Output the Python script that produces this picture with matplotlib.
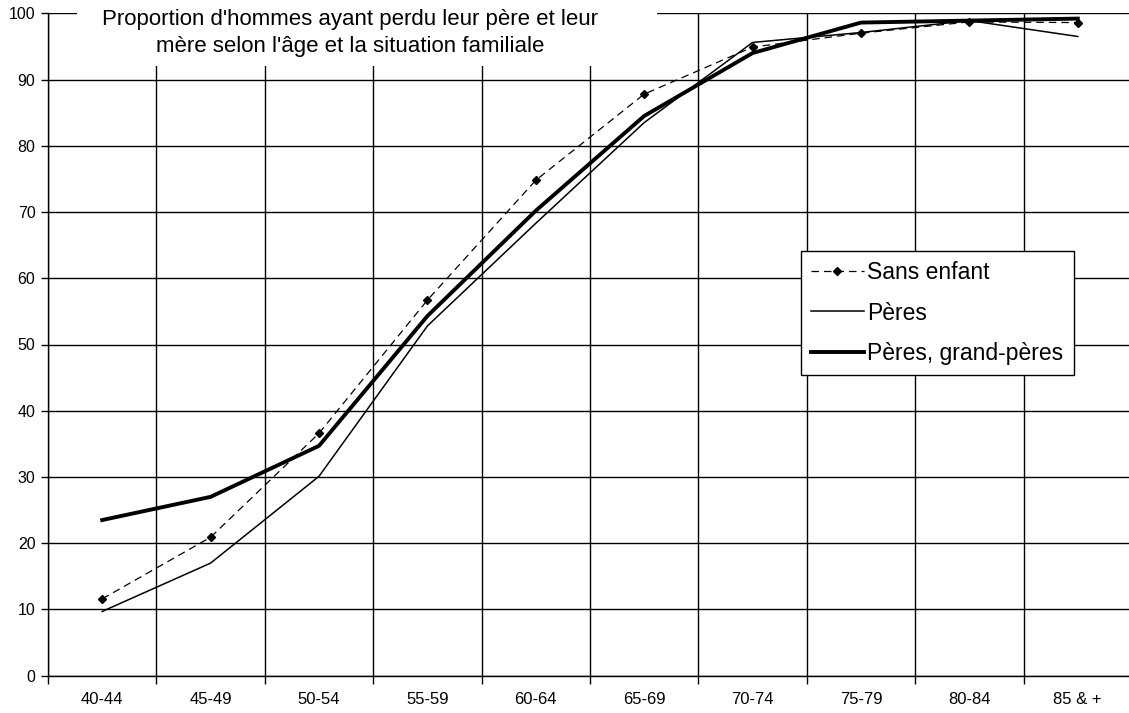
import matplotlib
matplotlib.use("AGG")
import matplotlib.pyplot as plt
from matplotlib.ticker import FixedLocator, MultipleLocator
import numpy as np

plt.rcParams["font.family"] = ["Liberation Sans", "DejaVu Sans"]

# Tranches d'âge et proportions (%) par situation familiale
ages = ["40-44", "45-49", "50-54", "55-59", "60-64",
        "65-69", "70-74", "75-79", "80-84", "85 & +"]
sans_enfant = [11.6, 20.9, 36.6, 56.7, 74.8, 87.8, 94.9, 97.0, 98.7, 98.6]
peres = [9.7, 17.0, 30.1, 52.8, 68.3, 83.5, 95.6, 97.1, 98.9, 96.5]
peres_gp = [23.5, 27.0, 34.7, 54.3, 70.2, 84.5, 94.0, 98.6, 98.9, 99.2]

W, H = 1129, 713
fig = plt.figure(figsize=(W / 100, H / 100), dpi=100)
ax = fig.add_axes([48 / W, 37.3 / H, 1084 / W, 662.4 / H])

x = np.arange(len(ages))
ax.plot(x, sans_enfant, color="black", lw=0.9, ls=(0, (6, 4)),
        marker="D", ms=4.5, label="Sans enfant")
ax.plot(x, peres, color="black", lw=1.1, label="Pères")
ax.plot(x, peres_gp, color="black", lw=2.8, label="Pères, grand-pères")

ax.set_xlim(-0.5, len(ages) - 0.5)
ax.set_ylim(0, 100)

ax.yaxis.set_major_locator(MultipleLocator(10))
ax.set_xticks(x)
ax.set_xticklabels(ages)
ax.xaxis.set_minor_locator(FixedLocator(np.arange(-0.5, len(ages), 1.0)))
ax.tick_params(axis="x", which="major", length=0, pad=12, labelsize=12)
ax.tick_params(axis="x", which="minor", length=6, width=1, color="black")
ax.tick_params(axis="y", length=5, width=1, labelsize=11.5, pad=4)

ax.grid(axis="y", which="major", color="black", lw=1)
ax.grid(axis="x", which="minor", color="black", lw=1)
ax.set_axisbelow(True)
for side in ("top", "right"):
    ax.spines[side].set_visible(False)
ax.spines["left"].set_linewidth(1)
ax.spines["bottom"].set_linewidth(1)

# titre sur fond blanc, qui masque le quadrillage
fig.patches.append(plt.Rectangle((77 / W, 1 - 66 / H), 580 / W, 66 / H,
                                 transform=fig.transFigure, facecolor="white",
                                 edgecolor="none", zorder=5))
fig.text(350 / W, 1 - 33 / H,
         "Proportion d'hommes ayant perdu leur père et leur\n"
         "mère selon l'âge et la situation familiale",
         ha="center", va="center", fontsize=16, linespacing=1.32, zorder=6)

leg = ax.legend(loc="upper left", bbox_to_anchor=(800.7 / W, 1 - 251 / H),
                bbox_transform=fig.transFigure, fontsize=16.5, frameon=True,
                fancybox=False, framealpha=1, edgecolor="black",
                handlelength=2.3, handletextpad=0.15, borderpad=0.45,
                labelspacing=0.75, borderaxespad=0)
leg.get_frame().set_linewidth(1)

fig.savefig("out.png", dpi=100)
